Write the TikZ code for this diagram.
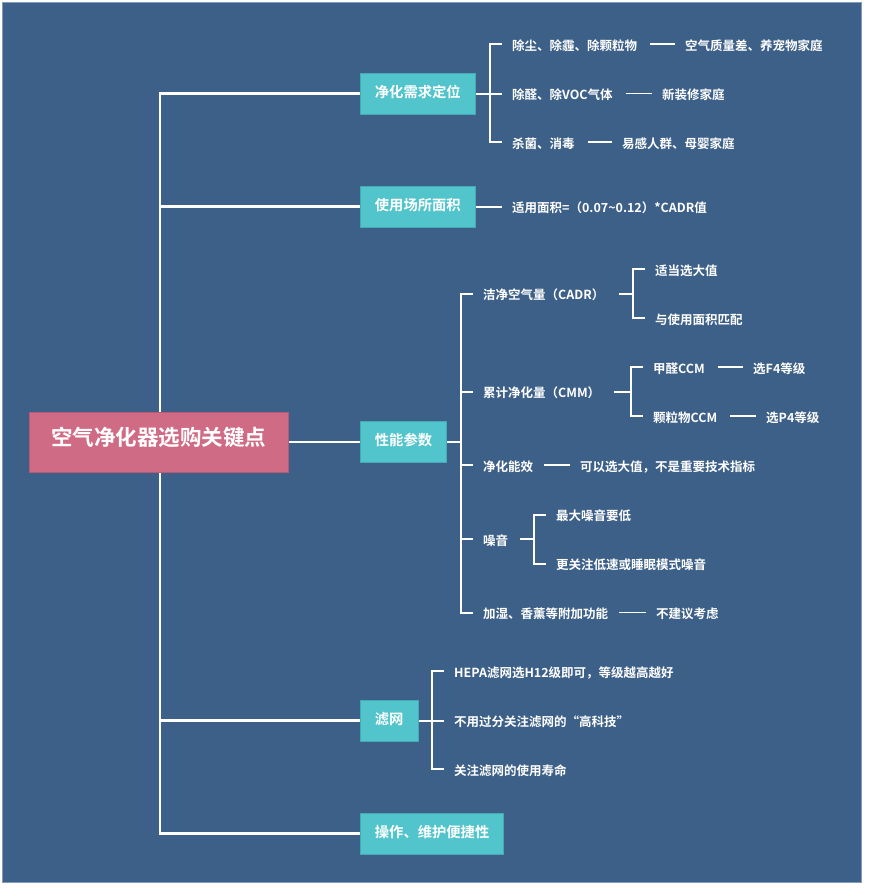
\documentclass[tikz,border=0pt]{standalone}
\usepackage{fontspec}
\setmainfont{Noto Sans CJK SC Bold}
\usetikzlibrary{backgrounds}
\definecolor{bgblue}{HTML}{3D6088}
\definecolor{bgedge}{HTML}{7F9BBD}
\definecolor{tealbox}{HTML}{52C4CC}
\definecolor{tealedge}{HTML}{46AAB6}
\definecolor{pinkbox}{HTML}{D06B85}
\definecolor{pinkedge}{HTML}{B85A75}
\pgfdeclarelayer{back}
\pgfsetlayers{back,background,main}
\begin{document}
\begin{tikzpicture}[x=1pt,y=-1pt,
  txt/.style={anchor=west, inner sep=0pt, text=white,
    font=\fontsize{12.5}{15}\selectfont, text height=1.24em, text depth=0pt},
  lone/.style={anchor=west, fill=tealbox, draw=tealedge, line width=0.8pt,
    text=white, font=\fontsize{14.3}{17}\selectfont, inner xsep=14.5pt,
    inner ysep=0pt, minimum height=41pt, text height=0.78em, text depth=0.02em},
  rootbox/.style={fill=pinkbox, draw=pinkedge, line width=0.8pt, text=white,
    font=\fontsize{21.5}{25}\selectfont, inner sep=0pt, minimum width=259pt,
    minimum height=60pt, text height=0.78em, text depth=0.02em},
  trunk/.style={draw=white, line width=2.5pt},
  br/.style={draw=white, line width=2pt},
  dashline/.style={draw=white, line width=1.6pt}]
\useasboundingbox (0,0) rectangle (868,889);
\begin{pgfonlayer}{back}
  \fill[white] (0,0) rectangle (868,889);
  \filldraw[fill=bgblue, draw=bgedge, line width=1pt] (2,2) rectangle (861,882);
\end{pgfonlayer}

% root and first-level topics
\node[rootbox] (root) at (158.5,442) {空气净化器选购关键点};
\node[lone] (n1) at (360,93.5) {净化需求定位};
\node[lone] (n2) at (360,206.5) {使用场所面积};
\node[lone] (n3) at (360,442) {性能参数};
\node[lone] (n4) at (360,720.5) {滤网};
\node[lone] (n5) at (360,833.5) {操作、维护便捷性};

% 净化需求定位
\node[txt] (a1) at (512,44) {除尘、除霾、除颗粒物};
\node[txt] (a1r) at (685,44) {空气质量差、养宠物家庭};
\node[txt] (a2) at (512,93.5) {除醛、除VOC气体};
\node[txt] (a2r) at (662,93.5) {新装修家庭};
\node[txt] (a3) at (512,142) {杀菌、消毒};
\node[txt] (a3r) at (622,142) {易感人群、母婴家庭};

% 使用场所面积
\node[txt] (b1) at (512,206.5) {适用面积=（0.07\textasciitilde 0.12）*CADR值};

% 性能参数
\node[txt] (c1) at (483,293.5) {洁净空气量（CADR）};
\node[txt] (c1a) at (655,269) {适当选大值};
\node[txt] (c1b) at (655,318) {与使用面积匹配};
\node[txt] (c2) at (483,391.5) {累计净化量（CMM）};
\node[txt] (c2a) at (653,367) {甲醛CCM};
\node[txt] (c2ar) at (753,367) {选F4等级};
\node[txt] (c2b) at (653,416) {颗粒物CCM};
\node[txt] (c2br) at (766,416) {选P4等级};
\node[txt] (c3) at (483,465) {净化能效};
\node[txt] (c3r) at (580,465) {可以选大值，不是重要技术指标};
\node[txt] (c4) at (483,539) {噪音};
\node[txt] (c4a) at (556,514.5) {最大噪音要低};
\node[txt] (c4b) at (556,563.5) {更关注低速或睡眠模式噪音};
\node[txt] (c5) at (483,612.5) {加湿、香薰等附加功能};
\node[txt] (c5r) at (656,612.5) {不建议考虑};

% 滤网
\node[txt] (d1) at (454,671) {HEPA滤网选H12级即可，等级越高越好};
\node[txt] (d2) at (454,720.5) {不用过分关注滤网的“高科技”};
\node[txt] (d3) at (454,769) {关注滤网的使用寿命};

\begin{pgfonlayer}{background}
  % trunk
  \coordinate (tk) at (160,442);
  \draw[trunk] (n1.west) -| (tk) |- (n5.west);
  \draw[trunk] (tk) |- (n2.west);
  \draw[trunk] (tk) |- (n4.west);
  \draw[trunk] (root.east) -- (n3.west);

  % 净化需求定位 bracket
  \coordinate (v1) at ([xshift=-22pt]a1.west);
  \draw[br] ([xshift=-10pt]a1.west) -- (v1) |- ([xshift=-10pt]a3.west);
  \draw[br] (n1.east) -- ([xshift=-10pt]a2.west);
  \draw[dashline] ([xshift=13pt]a1.east) -- ([xshift=-10pt]a1r.west);
  \draw[dashline] ([xshift=13pt]a2.east) -- ([xshift=-10pt]a2r.west);
  \draw[dashline] ([xshift=13pt]a3.east) -- ([xshift=-10pt]a3r.west);

  % 使用场所面积
  \draw[br] (n2.east) -- ([xshift=-10pt]b1.west);

  % 性能参数 bracket
  \coordinate (v3) at ([xshift=-22pt]c1.west);
  \draw[br] ([xshift=-10pt]c1.west) -- (v3) |- ([xshift=-10pt]c5.west);
  \draw[br] (n3.east) -- (n3.east -| v3);
  \draw[br] (c2.west -| v3) -- ([xshift=-10pt]c2.west);
  \draw[br] (c3.west -| v3) -- ([xshift=-10pt]c3.west);
  \draw[br] (c4.west -| v3) -- ([xshift=-10pt]c4.west);

  % CADR
  \coordinate (v31) at ([xshift=-22pt]c1a.west);
  \draw[br] ([xshift=-10pt]c1a.west) -- (v31) |- ([xshift=-10pt]c1b.west);
  \draw[br] ([xshift=14pt]c1.east) -- (c1.east -| v31);

  % CMM
  \coordinate (v32) at ([xshift=-22pt]c2a.west);
  \draw[br] ([xshift=-10pt]c2a.west) -- (v32) |- ([xshift=-10pt]c2b.west);
  \draw[br] ([xshift=14pt]c2.east) -- (c2.east -| v32);
  \draw[dashline] ([xshift=13pt]c2a.east) -- ([xshift=-10pt]c2ar.west);
  \draw[dashline] ([xshift=13pt]c2b.east) -- ([xshift=-10pt]c2br.west);

  % 净化能效
  \draw[dashline] ([xshift=11pt]c3.east) -- ([xshift=-10pt]c3r.west);

  % 噪音
  \coordinate (v34) at ([xshift=-22pt]c4a.west);
  \draw[br] ([xshift=-10pt]c4a.west) -- (v34) |- ([xshift=-10pt]c4b.west);
  \draw[br] ([xshift=12pt]c4.east) -- (c4.east -| v34);

  % 附加功能
  \draw[dashline] ([xshift=11pt]c5.east) -- ([xshift=-10pt]c5r.west);

  % 滤网 bracket
  \coordinate (v4) at ([xshift=-22pt]d1.west);
  \draw[br] ([xshift=-10pt]d1.west) -- (v4) |- ([xshift=-10pt]d3.west);
  \draw[br] (n4.east) -- ([xshift=-10pt]d2.west);
\end{pgfonlayer}
\end{tikzpicture}
\end{document}
